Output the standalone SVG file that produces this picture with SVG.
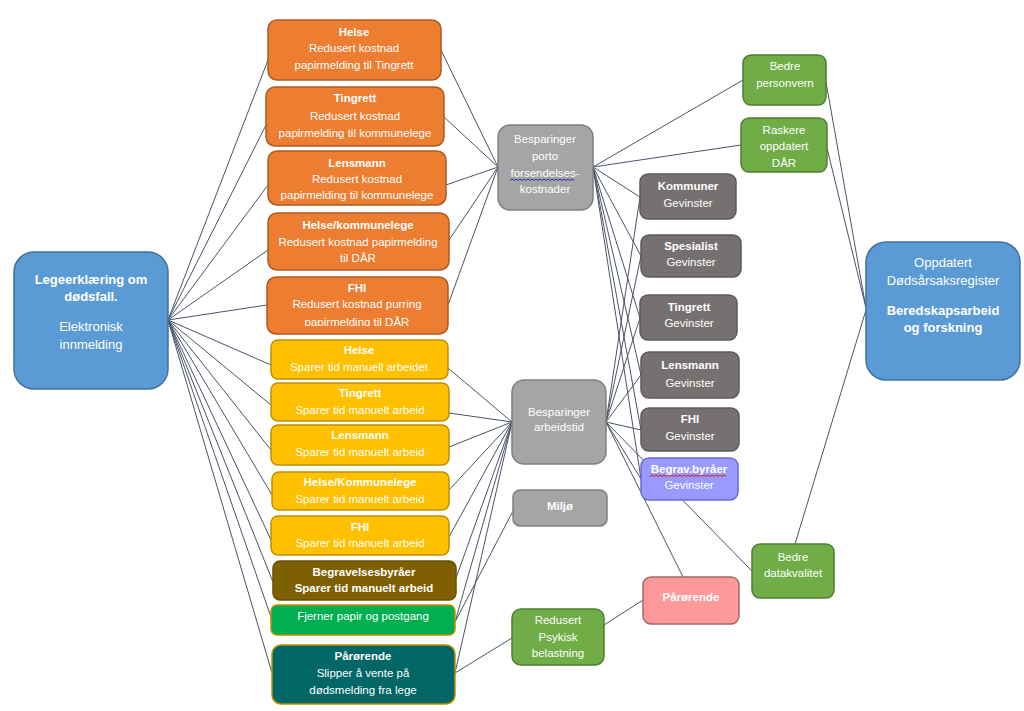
<svg xmlns="http://www.w3.org/2000/svg" width="1024" height="711" viewBox="0 0 1024 711">
<defs>
<style>
.t{font-family:"Liberation Sans",Arial,sans-serif;font-size:11.5px;fill:#fff;text-anchor:middle}
.b{font-weight:bold}
.L{font-size:13px}
.c line{stroke:#4a5468;stroke-width:1}
.or{fill:#ed7d31;stroke:#ae5a21;stroke-width:1.5}
.ye{fill:#ffc000;stroke:#bf9000;stroke-width:1.5}
.bl{fill:#5b9bd5;stroke:#41719c;stroke-width:1.5}
.gr{fill:#a5a5a5;stroke:#7f7f7f;stroke-width:1.5}
.dg{fill:#767171;stroke:#5f5a5a;stroke-width:1.5}
.gn{fill:#70ad47;stroke:#507e32;stroke-width:1.5}
</style>
<clipPath id="c3"><rect x="268" y="151" width="178" height="51"/></clipPath>
<clipPath id="c5"><rect x="267" y="277" width="181" height="49"/></clipPath>
</defs>
<rect width="1024" height="711" fill="#fff"/>
<g id="connectors" class="c">
<line x1="168" y1="320" x2="268" y2="60"/>
<line x1="168" y1="320" x2="266" y2="125"/>
<line x1="168" y1="320" x2="268" y2="185"/>
<line x1="168" y1="320" x2="268" y2="250"/>
<line x1="168" y1="320" x2="267" y2="305"/>
<line x1="168" y1="320" x2="271" y2="365"/>
<line x1="168" y1="320" x2="271" y2="405"/>
<line x1="168" y1="320" x2="271" y2="450"/>
<line x1="168" y1="320" x2="272" y2="495"/>
<line x1="168" y1="320" x2="272" y2="542"/>
<line x1="168" y1="320" x2="273" y2="582"/>
<line x1="168" y1="320" x2="272" y2="620"/>
<line x1="168" y1="320" x2="272" y2="673"/>
<line x1="441" y1="50" x2="498" y2="167"/>
<line x1="444" y1="117" x2="498" y2="167"/>
<line x1="446" y1="185" x2="498" y2="167"/>
<line x1="449" y1="240" x2="498" y2="167"/>
<line x1="448" y1="305" x2="498" y2="167"/>
<line x1="448" y1="368" x2="512" y2="422"/>
<line x1="449" y1="413" x2="512" y2="422"/>
<line x1="449" y1="447" x2="512" y2="422"/>
<line x1="449" y1="490" x2="512" y2="422"/>
<line x1="449" y1="537" x2="512" y2="422"/>
<line x1="456" y1="578" x2="512" y2="422"/>
<line x1="455" y1="622" x2="512" y2="422"/>
<line x1="455" y1="673" x2="512" y2="422"/>
<line x1="455" y1="622" x2="513" y2="511"/>
<line x1="455" y1="673" x2="512" y2="638"/>
<line x1="604" y1="625" x2="643" y2="600"/>
<line x1="593" y1="167" x2="743" y2="80"/>
<line x1="593" y1="167" x2="741" y2="145"/>
<line x1="593" y1="167" x2="640" y2="197"/>
<line x1="593" y1="167" x2="641" y2="256"/>
<line x1="593" y1="167" x2="640" y2="318"/>
<line x1="593" y1="167" x2="641" y2="375"/>
<line x1="593" y1="167" x2="641" y2="430"/>
<line x1="593" y1="167" x2="641" y2="479"/>
<line x1="606" y1="422" x2="640" y2="197"/>
<line x1="606" y1="422" x2="641" y2="256"/>
<line x1="606" y1="422" x2="640" y2="318"/>
<line x1="606" y1="422" x2="641" y2="375"/>
<line x1="606" y1="422" x2="641" y2="430"/>
<line x1="606" y1="422" x2="641" y2="479"/>
<line x1="606" y1="422" x2="683" y2="577"/>
<line x1="606" y1="422" x2="752" y2="571"/>
<line x1="826" y1="82" x2="866" y2="308"/>
<line x1="827" y1="148" x2="866" y2="308"/>
<line x1="795" y1="544" x2="866" y2="310"/>
</g>
<g id="n-lege"><rect class="bl" x="14" y="252" width="154" height="137" rx="20"/>
<text class="t L b" x="91" y="284">Legeerklæring om</text><text class="t L b" x="91" y="301">dødsfall.</text>
<text class="t L" x="91" y="331">Elektronisk</text><text class="t L" x="91" y="349">innmelding</text></g>
<g id="n-o1"><rect class="or" x="268" y="20" width="173" height="60" rx="9"/>
<text class="t b" x="354" y="36">Helse</text><text class="t" x="354" y="52">Redusert kostnad</text><text class="t" x="354" y="69">papirmelding til Tingrett</text></g>
<g id="n-o2"><rect class="or" x="266" y="87" width="178" height="59" rx="9"/>
<text class="t b" x="355" y="102">Tingrett</text><text class="t" x="355" y="120">Redusert kostnad</text><text class="t" x="355" y="137">papirmelding til kommunelege</text></g>
<g id="n-o3"><rect class="or" x="268" y="151" width="178" height="54" rx="9"/>
<g clip-path="url(#c3)"><text class="t b" x="357" y="167">Lensmann</text><text class="t" x="357" y="183">Redusert kostnad</text><text class="t" x="357" y="199">papirmelding til kommunelege</text></g></g>
<g id="n-o4"><rect class="or" x="268" y="213" width="181" height="57" rx="9"/>
<text class="t b" x="358" y="229">Helse/kommunelege</text><text class="t" x="358" y="246">Redusert kostnad papirmelding</text><text class="t" x="358" y="262">til DÅR</text></g>
<g id="n-o5"><rect class="or" x="267" y="277" width="181" height="57" rx="9"/>
<g clip-path="url(#c5)"><text class="t b" x="357" y="292">FHI</text><text class="t" x="357" y="308">Redusert kostnad purring</text><text class="t" x="357" y="326">papirmelding til DÅR</text></g></g>
<g id="n-y1"><rect class="ye" x="271" y="340" width="177" height="39" rx="7"/>
<text class="t b" x="359" y="354">Helse</text><text class="t" x="359" y="371">Sparer tid manuell arbeidet</text></g>
<g id="n-y2"><rect class="ye" x="271" y="383" width="178" height="38" rx="7"/>
<text class="t b" x="360" y="397">Tingrett</text><text class="t" x="360" y="414">Sparer tid manuelt arbeid</text></g>
<g id="n-y3"><rect class="ye" x="271" y="425" width="178" height="40" rx="7"/>
<text class="t b" x="360" y="439">Lensmann</text><text class="t" x="360" y="456">Sparer tid manuelt arbeid</text></g>
<g id="n-y4"><rect class="ye" x="272" y="472" width="177" height="38" rx="7"/>
<text class="t b" x="360" y="486">Helse/Kommunelege</text><text class="t" x="360" y="503">Sparer tid manuelt arbeid</text></g>
<g id="n-y5"><rect class="ye" x="271" y="516" width="178" height="39" rx="7"/>
<text class="t b" x="360" y="531">FHI</text><text class="t" x="360" y="547">Sparer tid manuelt arbeid</text></g>
<g id="n-begr"><rect x="273" y="561" width="183" height="39" rx="7" fill="#7f6000" stroke="#6a5000" stroke-width="1.5"/>
<text class="t b" x="364" y="576">Begravelsesbyråer</text><text class="t b" x="364" y="592">Sparer tid manuelt arbeid</text></g>
<g id="n-fjern"><rect x="271" y="605" width="184" height="30" rx="6" fill="#00b050" stroke="#bf9000" stroke-width="1.5"/>
<text class="t" x="363" y="620">Fjerner papir og postgang</text></g>
<g id="n-paar"><rect x="272" y="645" width="183" height="59" rx="9" fill="#006666" stroke="#bf9000" stroke-width="1.5"/>
<text class="t b" x="363" y="660">Pårørende</text><text class="t" x="363" y="677">Slipper å vente på</text><text class="t" x="363" y="694">dødsmelding fra lege</text></g>
<g id="n-porto"><rect class="gr" x="498" y="125" width="95" height="85" rx="12"/>
<text class="t" x="545" y="143">Besparinger</text><text class="t" x="545" y="160">porto</text><text class="t" x="545" y="177">forsendelses-</text><text class="t" x="545" y="193">kostnader</text>
<path d="M510 180.5 l2 -1.5 l2 1.5 l2 -1.5 l2 1.5 l2 -1.5 l2 1.5 l2 -1.5 l2 1.5 l2 -1.5 l2 1.5 l2 -1.5 l2 1.5 l2 -1.5 l2 1.5 l2 -1.5 l2 1.5 l2 -1.5 l2 1.5 l2 -1.5 l2 1.5 l2 -1.5 l2 1.5 l2 -1.5 l2 1.5 l2 -1.5 l2 1.5 l2 -1.5 l2 1.5 l2 -1.5 l2 1.5 l2 -1.5 l2 1.5" fill="none" stroke="#3030c0" stroke-width="1"/></g>
<g id="n-arb"><rect class="gr" x="512" y="380" width="94" height="84" rx="12"/>
<text class="t" x="559" y="416">Besparinger</text><text class="t" x="559" y="431">arbeidstid</text></g>
<g id="n-miljo"><rect class="gr" x="513" y="490" width="94" height="36" rx="7"/>
<text class="t b" x="560" y="510">Miljø</text></g>
<g id="n-psyk"><rect class="gn" x="512" y="609" width="92" height="56" rx="9"/>
<text class="t" x="558" y="624">Redusert</text><text class="t" x="558" y="641">Psykisk</text><text class="t" x="558" y="657">belastning</text></g>
<g id="n-kom"><rect class="dg" x="640" y="174" width="96" height="45" rx="8"/>
<text class="t b" x="688" y="190">Kommuner</text><text class="t" x="688" y="207">Gevinster</text></g>
<g id="n-spes"><rect class="dg" x="641" y="235" width="100" height="42" rx="8"/>
<text class="t b" x="691" y="250">Spesialist</text><text class="t" x="691" y="266">Gevinster</text></g>
<g id="n-ting"><rect class="dg" x="640" y="295" width="97" height="45" rx="8"/>
<text class="t b" x="689" y="311">Tingrett</text><text class="t" x="689" y="327">Gevinster</text></g>
<g id="n-lens"><rect class="dg" x="641" y="352" width="98" height="46" rx="8"/>
<text class="t b" x="690" y="369">Lensmann</text><text class="t" x="690" y="387">Gevinster</text></g>
<g id="n-fhi"><rect class="dg" x="641" y="408" width="98" height="43" rx="8"/>
<text class="t b" x="690" y="423">FHI</text><text class="t" x="690" y="440">Gevinster</text></g>
<g id="n-begrav"><rect x="641" y="458" width="97" height="42" rx="8" fill="#9999ff" stroke="#6a6acf" stroke-width="1.5"/>
<text class="t b" x="689" y="473">Begrav.byråer</text><text class="t" x="689" y="489">Gevinster</text>
<path d="M650 476.5 l2 -1.5 l2 1.5 l2 -1.5 l2 1.5 l2 -1.5 l2 1.5 l2 -1.5 l2 1.5 l2 -1.5 l2 1.5 l2 -1.5 l2 1.5 l2 -1.5 l2 1.5 l2 -1.5 l2 1.5 l2 -1.5 l2 1.5 l2 -1.5 l2 1.5 l2 -1.5 l2 1.5 l2 -1.5 l2 1.5 l2 -1.5 l2 1.5 l2 -1.5 l2 1.5 l2 -1.5 l2 1.5 l2 -1.5 l2 1.5 l2 -1.5 l2 1.5 l2 -1.5 l2 1.5 l2 -1.5 l2 1.5" fill="none" stroke="#d02020" stroke-width="1"/></g>
<g id="n-paar2"><rect x="643" y="577" width="96" height="47" rx="8" fill="#ff9999" stroke="#a06868" stroke-width="1.5"/>
<text class="t b" x="691" y="601">Pårørende</text></g>
<g id="n-pers"><rect class="gn" x="743" y="55" width="83" height="50" rx="8"/>
<text class="t" x="785" y="70">Bedre</text><text class="t" x="785" y="87">personvern</text></g>
<g id="n-rask"><rect class="gn" x="741" y="118" width="86" height="54" rx="8"/>
<text class="t" x="784" y="134">Raskere</text><text class="t" x="784" y="150">oppdatert</text><text class="t" x="784" y="167">DÅR</text></g>
<g id="n-data"><rect class="gn" x="752" y="544" width="82" height="54" rx="8"/>
<text class="t" x="793" y="561">Bedre</text><text class="t" x="793" y="577">datakvalitet</text></g>
<g id="n-reg"><rect class="bl" x="866" y="242" width="154" height="138" rx="20"/>
<text class="t L" x="943" y="267">Oppdatert</text><text class="t L" x="943" y="285">Dødsårsaksregister</text>
<text class="t L b" x="943" y="315">Beredskapsarbeid</text><text class="t L b" x="943" y="332">og forskning</text></g>
</svg>
